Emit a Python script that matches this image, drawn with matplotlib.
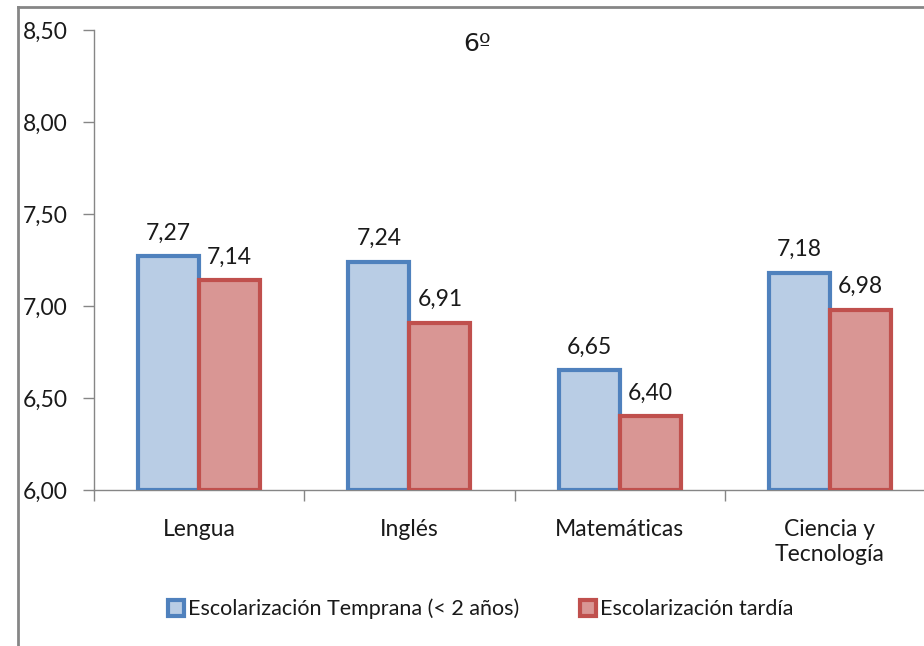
import matplotlib.pyplot as plt
from matplotlib.lines import Line2D
import numpy as np

plt.rcParams['font.family'] = ['Lato', 'DejaVu Sans']

# data
categories = ["Lengua", "Inglés", "Matemáticas", "Ciencia y\nTecnología"]
temprana = [7.27, 7.24, 6.65, 7.18]
tardia = [7.14, 6.91, 6.40, 6.98]
series_names = ["Escolarización Temprana (< 2 años)", "Escolarización tardía"]
yticks = [6.0, 6.5, 7.0, 7.5, 8.0, 8.5]

blue_fill, blue_edge = "#B9CDE5", "#4F81BD"
red_fill, red_edge = "#D99694", "#C0504D"
axis_col = "#868686"
txt_col = "#1a1a1a"
fs = 16.5

fig = plt.figure(figsize=(9.24, 6.46), dpi=100)
ax = fig.add_axes([94 / 924, 1 - 490 / 646, 841 / 924, 460 / 646])

x = np.arange(len(categories))
w = 0.29
ax.bar(x - w / 2, np.array(temprana) - 6, w, bottom=6, color=blue_fill,
       edgecolor=blue_edge, linewidth=3, zorder=3)
ax.bar(x + w / 2, np.array(tardia) - 6, w, bottom=6, color=red_fill,
       edgecolor=red_edge, linewidth=3, zorder=3)

for xi, v in zip(x - w / 2, temprana):
    ax.text(xi, v + 0.07, f"{v:.2f}".replace(".", ","), ha="center", va="bottom",
            fontsize=fs, color=txt_col)
for xi, v in zip(x + w / 2, tardia):
    ax.text(xi, v + 0.07, f"{v:.2f}".replace(".", ","), ha="center", va="bottom",
            fontsize=fs, color=txt_col)

ax.set_xlim(-0.5, 3.5)
ax.set_ylim(6, 8.5)
ax.set_yticks(yticks)
ax.set_yticklabels([f"{t:.2f}".replace(".", ",") for t in yticks], fontsize=fs,
                   color=txt_col)
ax.set_xticks(x)
ax.set_xticklabels(categories, fontsize=fs, color=txt_col, linespacing=1.2, va="top")
ax.set_xticks([-0.5, 0.5, 1.5, 2.5], minor=True)
ax.tick_params(axis="x", which="major", length=0, pad=21)
ax.tick_params(axis="x", which="minor", length=8, color=axis_col, width=1)
ax.tick_params(axis="y", length=8, color=axis_col, width=1, pad=11)

for s in ["top", "right"]:
    ax.spines[s].set_visible(False)
for s in ["left", "bottom"]:
    ax.spines[s].set_color(axis_col)
    ax.spines[s].set_linewidth(1)

fig.text(477 / 924, 1 - 44 / 646, "6º", ha="center", va="center", fontsize=18,
         family=["DejaVu Sans"], color=txt_col)

# chart frame
fig.add_artist(Line2D([18 / 924, 18 / 924], [0, 1 - 7 / 646], color=axis_col, lw=2))
fig.add_artist(Line2D([18 / 924, 1], [1 - 7 / 646, 1 - 7 / 646], color=axis_col, lw=2))

handles = [
    Line2D([], [], marker="s", ls="none", markersize=12, markerfacecolor=blue_fill,
           markeredgecolor=blue_edge, markeredgewidth=3),
    Line2D([], [], marker="s", ls="none", markersize=12, markerfacecolor=red_fill,
           markeredgecolor=red_edge, markeredgewidth=3),
]
fig.legend(handles, series_names, loc="center", bbox_to_anchor=(480 / 924, 1 - 609 / 646),
           ncol=2, frameon=False, handletextpad=0.15, columnspacing=2.8,
           handlelength=0.8, prop={'size': 15.5}, labelcolor=txt_col)

fig.savefig("out.png", dpi=100)
